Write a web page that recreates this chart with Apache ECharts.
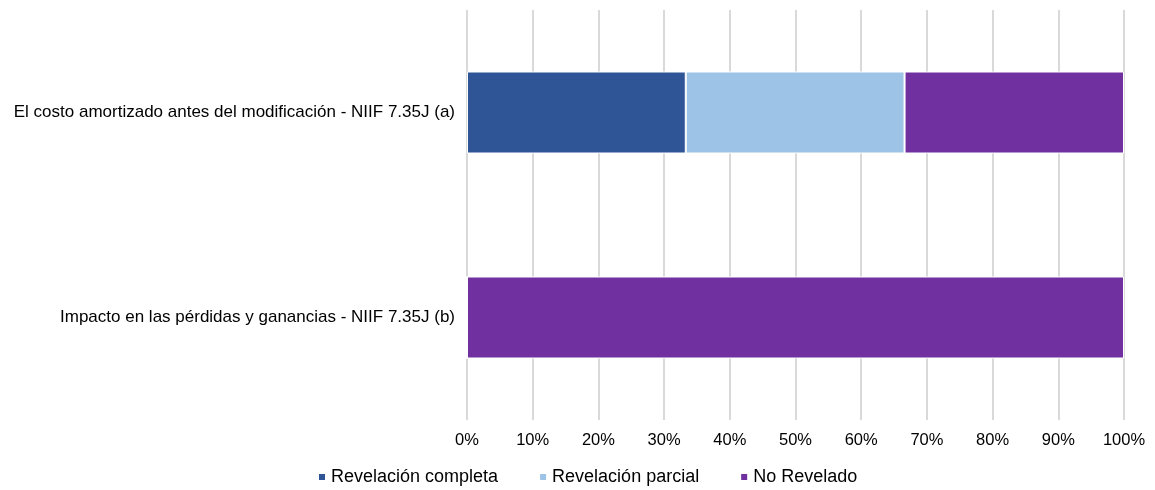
<!DOCTYPE html>
<html>
<head>
<meta charset="utf-8">
<script src="https://cdn.jsdelivr.net/npm/echarts@6/dist/echarts.min.js"></script>
<style>
  html, body { margin: 0; padding: 0; background: #ffffff; }
  #chart { width: 1155px; height: 490px; }
</style>
</head>
<body>
<div id="chart"></div>
<script>
// Disclosure items (top to bottom)
const categories = [
  'El costo amortizado antes del modificación - NIIF 7.35J (a)',
  'Impacto en las pérdidas y ganancias - NIIF 7.35J (b)'
];
// Share of entities per disclosure level, in percent
const revelacionCompleta = [33.3, 0];
const revelacionParcial = [33.3, 0];
const noRevelado = [33.4, 100];
const xTicks = [0, 10, 20, 30, 40, 50, 60, 70, 80, 90, 100];

const font = 'Liberation Sans, Arial, sans-serif';
const chart = echarts.init(document.getElementById('chart'));

function barSeries(name, data, color) {
  return {
    name: name,
    type: 'bar',
    stack: 'total',
    data: data,
    barWidth: '40%',
    itemStyle: { color: color, borderColor: '#ffffff', borderWidth: 1 },
    emphasis: { disabled: true }
  };
}

chart.setOption({
  animation: false,
  grid: { left: 467, right: 31, top: 10, bottom: 70, containLabel: false },
  legend: {
    top: 463,
    left: 312,
    itemWidth: 8,
    itemHeight: 8,
    itemGap: 40,
    icon: 'rect',
    textStyle: { fontFamily: font, fontSize: 18, color: '#000000' },
    data: ['Revelación completa', 'Revelación parcial', 'No Revelado']
  },
  xAxis: {
    type: 'value',
    min: xTicks[0],
    max: xTicks[xTicks.length - 1],
    interval: 10,
    axisLine: { show: false },
    axisTick: { show: false },
    splitLine: { show: true, lineStyle: { color: '#d9d9d9', width: 2 } },
    axisLabel: {
      formatter: '{value}%',
      margin: 12,
      fontFamily: font,
      fontSize: 16.5,
      color: '#000000'
    }
  },
  yAxis: {
    type: 'category',
    data: categories,
    inverse: true,
    axisLine: { show: false },
    axisTick: { show: false },
    axisLabel: {
      margin: 12,
      fontFamily: font,
      fontSize: 17,
      color: '#000000'
    }
  },
  series: [
    barSeries('Revelación completa', revelacionCompleta, '#2f5597'),
    barSeries('Revelación parcial', revelacionParcial, '#9dc3e6'),
    barSeries('No Revelado', noRevelado, '#7030a0')
  ]
});
</script>
</body>
</html>
